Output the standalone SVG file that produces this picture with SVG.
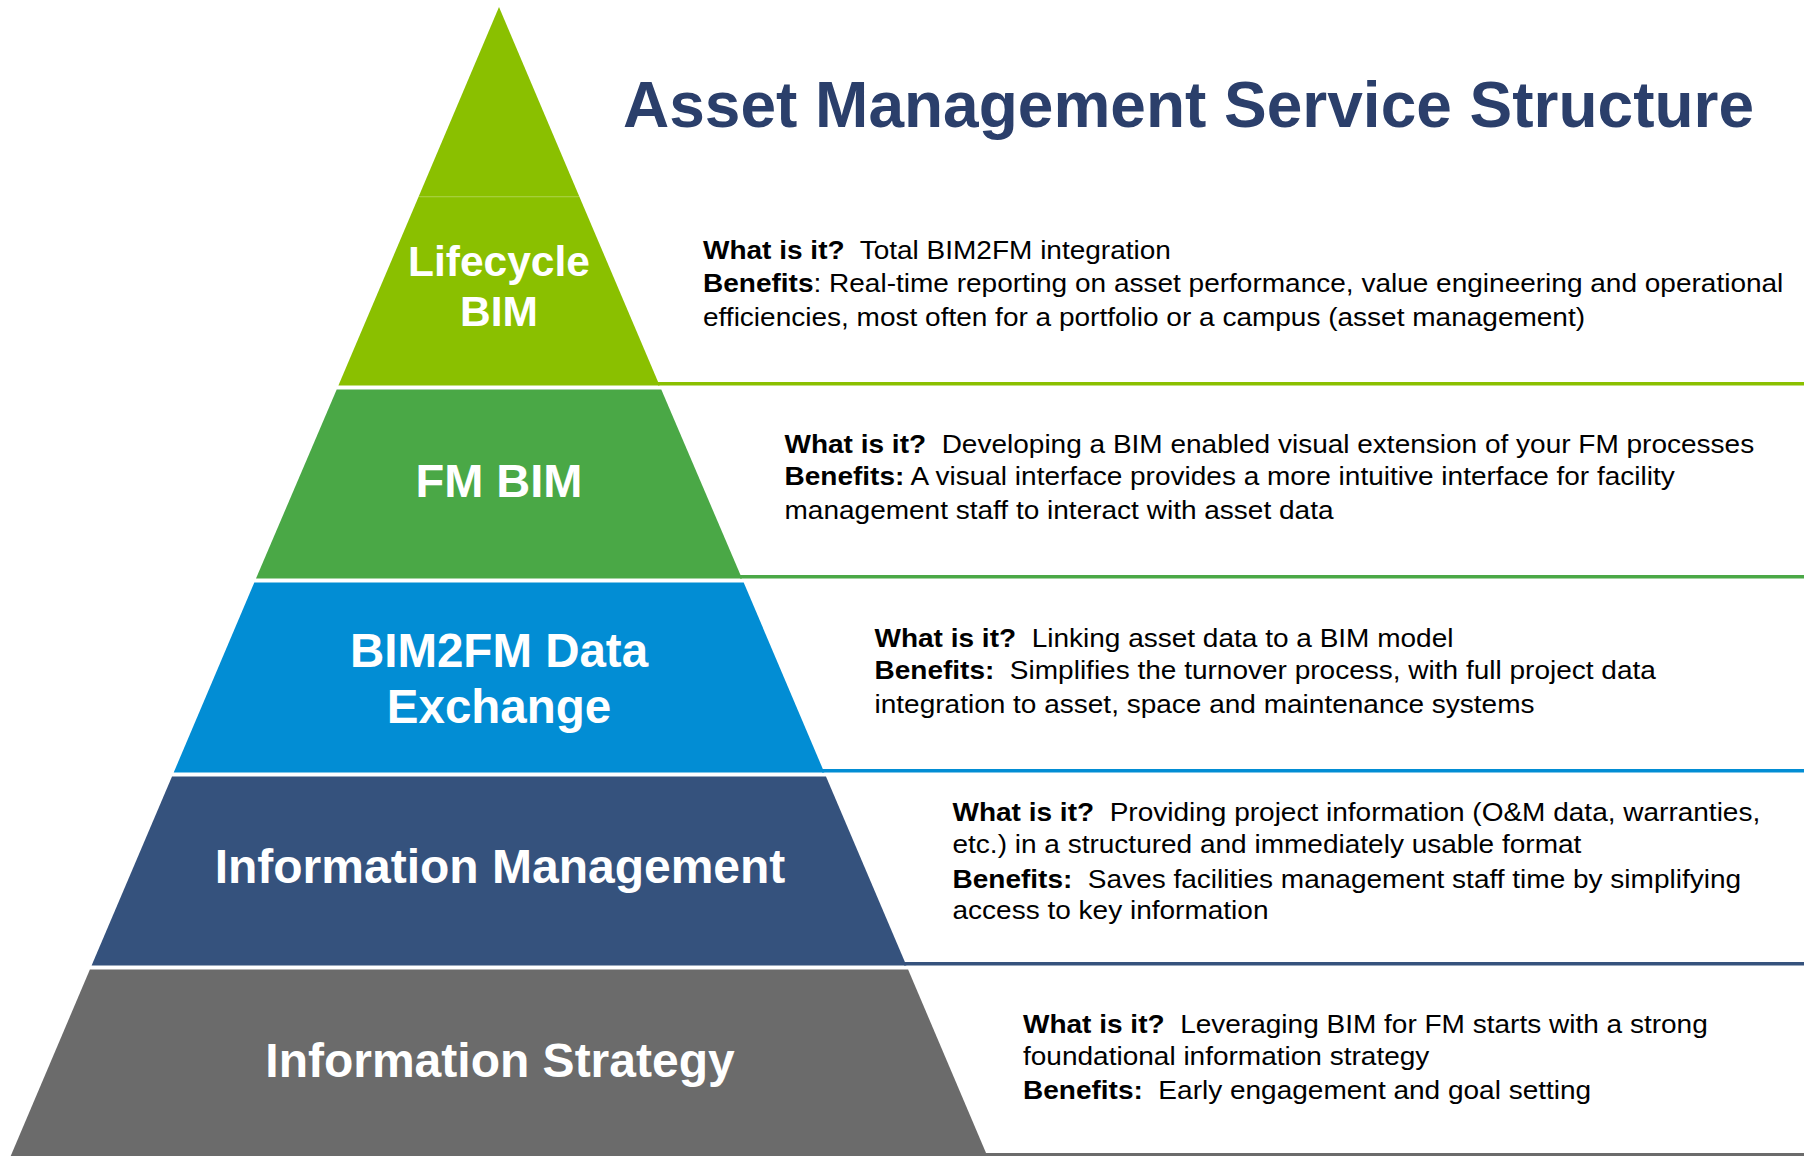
<svg xmlns="http://www.w3.org/2000/svg" width="1804" height="1156" viewBox="0 0 1804 1156">
  <style>
    .title { font-family: "Liberation Sans", Arial, sans-serif; font-weight: bold; font-size: 64px; fill: #2B3F6B; }
    .tier { font-family: "Liberation Sans", Arial, sans-serif; font-weight: bold; fill: #FFFFFF; text-anchor: middle; }
    .desc { font-family: "Liberation Sans", Arial, sans-serif; font-size: 25.6px; fill: #000000; white-space: pre; }
    .desc .b { font-weight: bold; }
  </style>
  <rect x="0" y="0" width="1804" height="1156" fill="#FFFFFF"/>

  <text class="title" x="623" y="127">Asset Management Service Structure</text>

  <!-- Pyramid apex -->
  <g id="apex">
    <polygon points="499,7 579.3,196.5 418.7,196.5" fill="#8AC000"/>
  </g>

  <!-- Tier 1: Lifecycle BIM -->
  <g id="lifecycle-bim">
    <polygon points="418.7,196.5 579.3,196.5 659.6,385.5 338.4,385.5" fill="#8AC000"/>
    <line x1="420" y1="196.8" x2="578" y2="196.8" stroke="#A4CF3A" stroke-width="1"/>
    <rect x="658" y="382" width="1146" height="3.5" fill="#8AC000"/>
    <text class="tier" font-size="42.5" x="499" y="276">Lifecycle</text>
    <text class="tier" font-size="42.5" x="499" y="326">BIM</text>
    <g transform="translate(703 0) scale(1.094 1)">
      <text class="desc" x="0" y="259"><tspan class="b">What is it?</tspan>  Total BIM2FM integration</text>
      <text class="desc" x="0" y="292"><tspan class="b">Benefits</tspan>: Real-time reporting on asset performance, value engineering and operational</text>
      <text class="desc" x="0" y="326">efficiencies, most often for a portfolio or a campus (asset management)</text>
    </g>
  </g>

  <!-- Tier 2: FM BIM -->
  <g id="fm-bim">
    <polygon points="336.7,389.5 661.3,389.5 742,578.5 256,578.5" fill="#4AA846"/>
    <rect x="740" y="575" width="1064" height="3.5" fill="#4AA846"/>
    <text class="tier" font-size="47" x="499" y="497">FM BIM</text>
    <g transform="translate(784.5 0) scale(1.094 1)">
      <text class="desc" x="0" y="453"><tspan class="b">What is it?</tspan>  Developing a BIM enabled visual extension of your FM processes</text>
      <text class="desc" x="0" y="485.5"><tspan class="b">Benefits:</tspan> A visual interface provides a more intuitive interface for facility</text>
      <text class="desc" x="0" y="519">management staff to interact with asset data</text>
    </g>
  </g>

  <!-- Tier 3: BIM2FM Data Exchange -->
  <g id="bim2fm-data-exchange">
    <polygon points="254.3,582.5 743.7,582.5 824.3,772.5 173.7,772.5" fill="#028DD4"/>
    <rect x="822" y="769" width="982" height="3.5" fill="#028DD4"/>
    <text class="tier" font-size="47.5" x="499" y="667">BIM2FM Data</text>
    <text class="tier" font-size="47.5" x="499" y="723">Exchange</text>
    <g transform="translate(874.5 0) scale(1.094 1)">
      <text class="desc" x="0" y="647"><tspan class="b">What is it?</tspan>  Linking asset data to a BIM model</text>
      <text class="desc" x="0" y="679"><tspan class="b">Benefits:</tspan>  Simplifies the turnover process, with full project data</text>
      <text class="desc" x="0" y="713">integration to asset, space and maintenance systems</text>
    </g>
  </g>

  <!-- Tier 4: Information Management -->
  <g id="information-management">
    <polygon points="172,776.5 826,776.5 906.4,965.5 91.6,965.5" fill="#35527D"/>
    <rect x="904" y="962" width="900" height="3.5" fill="#35527D"/>
    <text class="tier" font-size="48" x="500" y="883">Information Management</text>
    <g transform="translate(952.5 0) scale(1.094 1)">
      <text class="desc" x="0" y="821"><tspan class="b">What is it?</tspan>  Providing project information (O&amp;M data, warranties,</text>
      <text class="desc" x="0" y="853">etc.) in a structured and immediately usable format</text>
      <text class="desc" x="0" y="888"><tspan class="b">Benefits:</tspan>  Saves facilities management staff time by simplifying</text>
      <text class="desc" x="0" y="919.5">access to key information</text>
    </g>
  </g>

  <!-- Tier 5: Information Strategy -->
  <g id="information-strategy">
    <polygon points="89.9,969.5 908.1,969.5 987.3,1156 10.7,1156" fill="#6B6B6B"/>
    <rect x="985" y="1153" width="819" height="3" fill="#6B6B6B"/>
    <text class="tier" font-size="48" x="500" y="1077">Information Strategy</text>
    <g transform="translate(1023 0) scale(1.094 1)">
      <text class="desc" x="0" y="1033"><tspan class="b">What is it?</tspan>  Leveraging BIM for FM starts with a strong</text>
      <text class="desc" x="0" y="1065">foundational information strategy</text>
      <text class="desc" x="0" y="1099"><tspan class="b">Benefits:</tspan>  Early engagement and goal setting</text>
    </g>
  </g>

  <!-- No connectors: tiers are linked by position only -->
  <g id="connectors"/>
</svg>
